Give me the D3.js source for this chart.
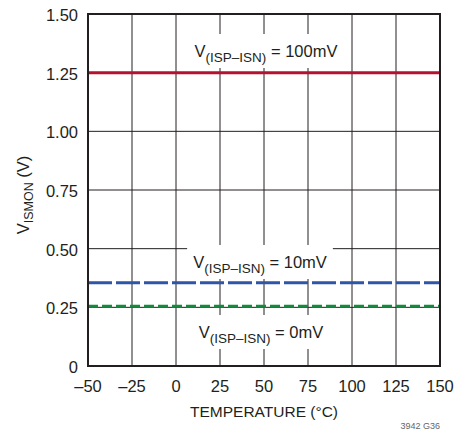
<!DOCTYPE html>
<html><head><meta charset="utf-8">
<script src="https://cdn.jsdelivr.net/npm/d3@7"></script>
<style>body{margin:0;background:#fff}svg{display:block}text{font-family:"Liberation Sans",Arial,sans-serif;fill:#231f20}</style>
</head><body><div id="chart"></div>
<script>
const temperature = [-50, -25, 0, 25, 50, 75, 100, 125, 150];
const v100mV = [1.25, 1.25, 1.25, 1.25, 1.25, 1.25, 1.25, 1.25, 1.25];
const v10mV = [0.355, 0.355, 0.355, 0.355, 0.355, 0.355, 0.355, 0.355, 0.355];
const v0mV = [0.255, 0.255, 0.255, 0.255, 0.255, 0.255, 0.255, 0.255, 0.255];
const xTicks = [-50, -25, 0, 25, 50, 75, 100, 125, 150];
const yTicks = [0, 0.25, 0.5, 0.75, 1.0, 1.25, 1.5];
const yTickLabels = ["0", "0.25", "0.50", "0.75", "1.00", "1.25", "1.50"];
const seriesNames = ["100mV", "10mV", "0mV"];

const W = 469, H = 430;
const m = {left: 88, right: 29, top: 14, bottom: 64};
const svg = d3.select("#chart").append("svg").attr("width", W).attr("height", H);
const x = d3.scaleLinear().domain([-50, 150]).range([m.left, W - m.right]);
const y = d3.scaleLinear().domain([0, 1.5]).range([H - m.bottom, m.top]);

// grid
const g = svg.append("g");
g.selectAll(".vx").data(xTicks).join("line")
  .attr("x1", d => x(d)).attr("x2", d => x(d)).attr("y1", y(0)).attr("y2", y(1.5))
  .attr("stroke", "#231f20").attr("stroke-width", 1);
g.selectAll(".hy").data(yTicks).join("line")
  .attr("y1", d => y(d)).attr("y2", d => y(d)).attr("x1", x(-50)).attr("x2", x(150))
  .attr("stroke", "#231f20").attr("stroke-width", 1);

// label boxes + labels
function label(cx, baseline, name) {
  const t = svg.append("text").attr("x", cx).attr("y", baseline).attr("text-anchor", "middle").style("font-size", "16.5px");
  t.append("tspan").text("V");
  t.append("tspan").attr("dy", 5).style("font-size", "13.5px").text("(ISP\u2013ISN)");
  t.append("tspan").attr("dy", -5).text(" = " + name);
  return t;
}
const labels = [
  {cx: 266, base: 57, name: seriesNames[0]},
  {cx: 260, base: 268, name: seriesNames[1]},
  {cx: 261, base: 338, name: seriesNames[2]}
];
const boxes = svg.append("g");
labels.forEach(l => {
  const t = label(l.cx, l.base, l.name);
  const b = t.node().getBBox();
  boxes.append("rect").attr("x", b.x - 6).attr("y", b.y - 8).attr("width", b.width + 12).attr("height", b.height + 11).attr("fill", "#fff");
  t.raise();
});

// lines
const line = d3.line().x((d, i) => x(temperature[i])).y(d => y(d));
const dataG = svg.append("g");
dataG.append("path").datum(v100mV).attr("d", line).attr("fill", "none").attr("stroke", "#b5122f").attr("stroke-width", 3);
dataG.append("path").datum(v10mV).attr("d", line).attr("fill", "none").attr("stroke", "#2e55a6").attr("stroke-width", 3).attr("stroke-dasharray", "24,4");
dataG.append("path").datum(v0mV).attr("d", line).attr("fill", "none").attr("stroke", "#138a3c").attr("stroke-width", 3).attr("stroke-dasharray", "10,4");
dataG.lower(); boxes.lower(); g.lower();

// frame
svg.append("rect").attr("x", x(-50)).attr("y", y(1.5)).attr("width", x(150) - x(-50)).attr("height", y(0) - y(1.5))
  .attr("fill", "none").attr("stroke", "#231f20").attr("stroke-width", 2);

// tick labels
svg.selectAll(".xl").data(xTicks).join("text")
  .attr("x", d => x(d)).attr("y", 392).attr("text-anchor", "middle").style("font-size", "16.5px")
  .text(d => d < 0 ? "\u2013" + Math.abs(d) : d);
svg.selectAll(".yl").data(yTicks).join("text")
  .attr("x", 78).attr("y", d => y(d) + 7).attr("text-anchor", "end").style("font-size", "16.5px")
  .text((d, i) => yTickLabels[i]);

// axis titles
svg.append("text").attr("x", x(50)).attr("y", 417).attr("text-anchor", "middle").style("font-size", "15.5px").text("TEMPERATURE (\u00b0C)");
const yt = svg.append("text").attr("transform", "translate(29," + 195 + ") rotate(-90)").attr("text-anchor", "middle").style("font-size", "16.5px");
yt.append("tspan").text("V");
yt.append("tspan").attr("dy", 4).style("font-size", "12.5px").text("ISMON");
yt.append("tspan").attr("dy", -4).text(" (V)");

svg.append("text").attr("x", 440).attr("y", 429).attr("text-anchor", "end").style("font-size", "9px").style("fill", "#666").text("3942 G36");
</script></body></html>
